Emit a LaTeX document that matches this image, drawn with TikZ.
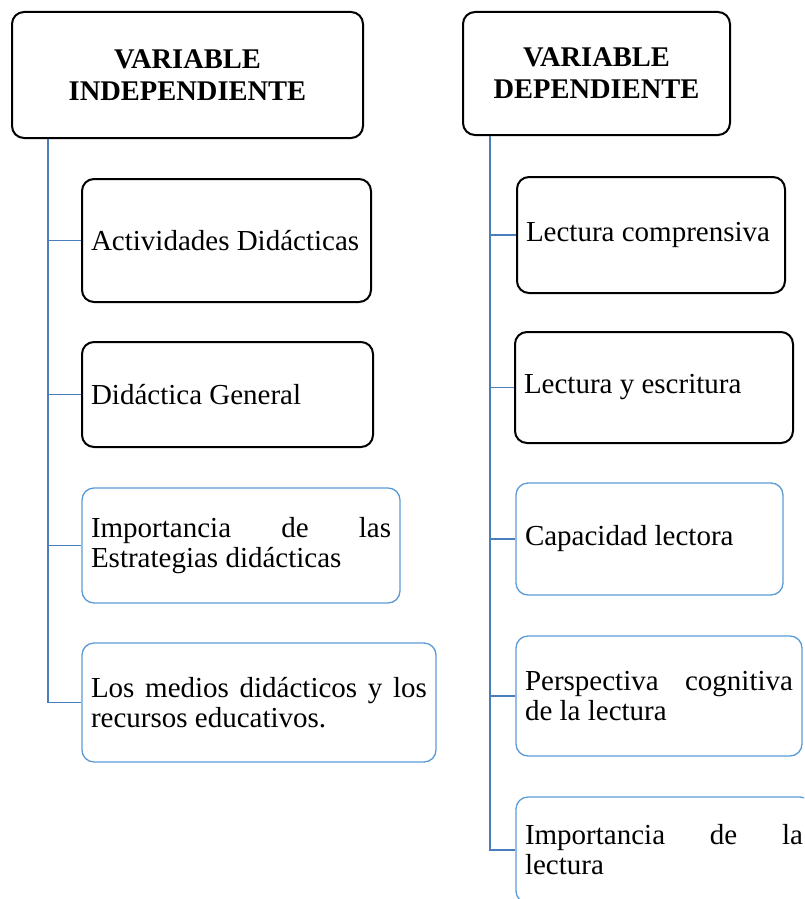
\documentclass[tikz,border=0pt]{standalone}
\usepackage{fontspec}
\setmainfont{Liberation Serif}
\definecolor{boxblue}{HTML}{5B9BD5}
\definecolor{linkblue}{HTML}{4A7EBB}
\begin{document}
\begin{tikzpicture}[x=1pt,y=-1pt,
  head/.style={draw=black, line width=2pt, rounded corners=12pt, align=center,
    font={\bfseries\fontsize{28.5}{32}\selectfont}, inner sep=0pt},
  item/.style={rounded corners=12pt, align=justify, inner xsep=9pt, inner ysep=0pt,
    font={\fontsize{29}{30}\selectfont\hyphenpenalty=10000\relax}},
  blackbox/.style={item, draw=black, line width=2pt},
  bluebox/.style={item, draw=boxblue, line width=1.3pt},
  conn/.style={draw=linkblue, line width=1.5pt}]
\useasboundingbox (0,0) rectangle (804,899);
\clip (0,0) rectangle (804,899);

\node[head, minimum width=351pt, minimum height=126pt] (LH) at (187.5,75) {VARIABLE\\INDEPENDIENTE};
\node[head, minimum width=267pt, minimum height=123pt] (RH) at (596.5,73.5) {VARIABLE\\DEPENDIENTE};

\node[blackbox, text width=271pt, minimum height=123pt] (L1) at (226.5,240.5) {Actividades Didácticas};
\node[blackbox, text width=273pt, minimum height=105pt] (L2) at (227.5,394.5) {Didáctica General};
\node[bluebox, text width=300pt, minimum height=115pt] (L3) at (241,545.5) {Importancia de las\linebreak Estrategias didácticas};
\node[bluebox, text width=336pt, minimum height=119pt] (L4) at (259,702.5) {Los medios didácticos y los\linebreak recursos educativos.};

\node[blackbox, text width=250pt, minimum height=116pt] (R1) at (651,235) {Lectura comprensiva};
\node[blackbox, text width=260pt, minimum height=111pt] (R2) at (654,387.5) {Lectura y escritura};
\node[bluebox, text width=249pt, minimum height=112pt] (R3) at (649.5,539) {Capacidad lectora};
\node[bluebox, text width=268pt, minimum height=120pt] (R4) at (659,696) {Perspectiva cognitiva\linebreak de la lectura};
\node[bluebox, text width=278pt, minimum height=106pt] (R5) at (664,850) {\rightskip=10pt Importancia de la\linebreak lectura};

\coordinate (ltx) at (48,0);
\coordinate (rtx) at (490,0);

\draw[conn] (LH.south -| ltx) |- (L4.west);
\draw[conn] (ltx |- L1.west) -- (L1.west);
\draw[conn] (ltx |- L2.west) -- (L2.west);
\draw[conn] (ltx |- L3.west) -- (L3.west);

\draw[conn] (RH.south -| rtx) |- (R5.west);
\draw[conn] (rtx |- R1.west) -- (R1.west);
\draw[conn] (rtx |- R2.west) -- (R2.west);
\draw[conn] (rtx |- R3.west) -- (R3.west);
\draw[conn] (rtx |- R4.west) -- (R4.west);
\end{tikzpicture}
\end{document}
